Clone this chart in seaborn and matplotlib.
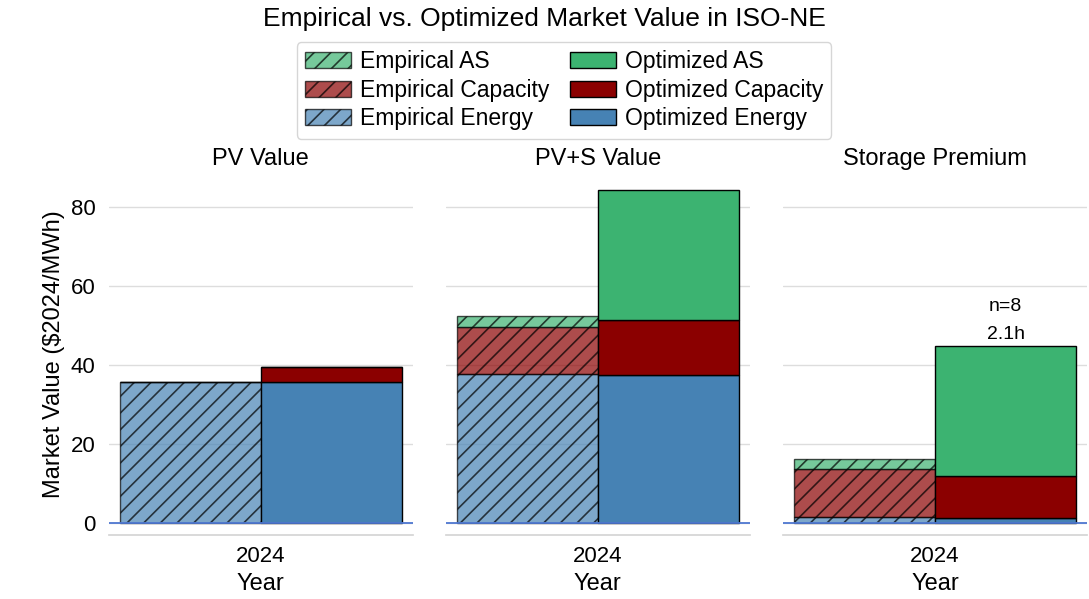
import numpy as np
import pandas as pd
import matplotlib
matplotlib.use("Agg")
import matplotlib.pyplot as plt
import seaborn as sns
from matplotlib.patches import Patch

# Data ($2024/MWh)
panels = ["PV Value", "PV+S Value", "Storage Premium"]
year_label = "2024"
components = ["Energy", "Capacity", "AS"]
empirical_energy = [35.8, 37.7, 1.6]
empirical_capacity = [0.0, 11.9, 12.1]
empirical_as = [0.0, 2.7, 2.6]
optimized_energy = [35.8, 37.5, 1.35]
optimized_capacity = [3.7, 14.0, 10.65]
optimized_as = [0.0, 32.9, 32.9]
storage_n = 8
storage_hours = 2.1

sns.set_theme(style="whitegrid", rc={
    "grid.color": "#dddddd",
    "axes.edgecolor": "#d5d5d5",
    "text.color": "black",
    "axes.labelcolor": "black",
    "xtick.color": "black",
    "ytick.color": "black",
    "hatch.linewidth": 1.2,
})
plt.rcParams['font.family'] = ['Liberation Sans', 'DejaVu Sans']

colors = {"Energy": "steelblue", "Capacity": "darkred", "AS": "mediumseagreen"}
emp = {"Energy": empirical_energy, "Capacity": empirical_capacity, "AS": empirical_as}
opt = {"Energy": optimized_energy, "Capacity": optimized_capacity, "AS": optimized_as}

fig, axes = plt.subplots(1, 3, figsize=(10.89, 5.99), dpi=100, sharey=True)
fig.subplots_adjust(left=0.100, right=0.998, bottom=0.107, top=0.711, wspace=0.109)

width = 0.4
for i, ax in enumerate(axes):
    bottom_e = 0.0
    bottom_o = 0.0
    for comp in components:
        ax.bar(-width / 2, emp[comp][i], width, bottom=bottom_e, color=colors[comp],
               alpha=0.7, hatch="//", edgecolor="black", linewidth=1)
        ax.bar(width / 2, opt[comp][i], width, bottom=bottom_o, color=colors[comp],
               edgecolor="black", linewidth=1)
        bottom_e += emp[comp][i]
        bottom_o += opt[comp][i]
    ax.axhline(0, color="#4f78d1", linewidth=1.3, zorder=3)
    ax.set_title(panels[i], fontsize=17)
    ax.set_xticks([0])
    ax.set_xticklabels([year_label], fontsize=16)
    ax.set_xlabel("Year", fontsize=17)
    ax.set_xlim(-0.43, 0.43)
    ax.set_ylim(-3, 88.6)
    ax.grid(axis="x", visible=False)
    ax.tick_params(axis="y", labelsize=16)
    ax.tick_params(axis="x", pad=2)
    sns.despine(ax=ax, left=True)

    if i == 2:
        top = bottom_o
        ax.annotate(f"{storage_hours}h", (width / 2, top), xytext=(0, 2),
                    textcoords="offset points", ha="center", va="bottom", fontsize=14)
        ax.annotate(f"n={storage_n}", (width / 2, top), xytext=(0, 22),
                    textcoords="offset points", ha="center", va="bottom", fontsize=14)

axes[0].set_ylabel("Market Value ($2024/MWh)", fontsize=17)
axes[0].set_yticks([0, 20, 40, 60, 80])

handles = []
for comp in ["AS", "Capacity", "Energy"]:
    handles.append(Patch(facecolor=colors[comp], alpha=0.7, hatch="//",
                         edgecolor="black", label=f"Empirical {comp}"))
for comp in ["AS", "Capacity", "Energy"]:
    handles.append(Patch(facecolor=colors[comp], edgecolor="black",
                         label=f"Optimized {comp}"))
fig.legend(handles=handles, ncol=2, loc="upper center", bbox_to_anchor=(0.518, 0.949),
           fontsize=16.5, handlelength=2.0, columnspacing=0.9, labelspacing=0.25,
           handletextpad=0.4, borderpad=0.35)

fig.suptitle("Empirical vs. Optimized Market Value in ISO-NE", fontsize=19, y=0.988)

plt.savefig("out.png", dpi=100)
